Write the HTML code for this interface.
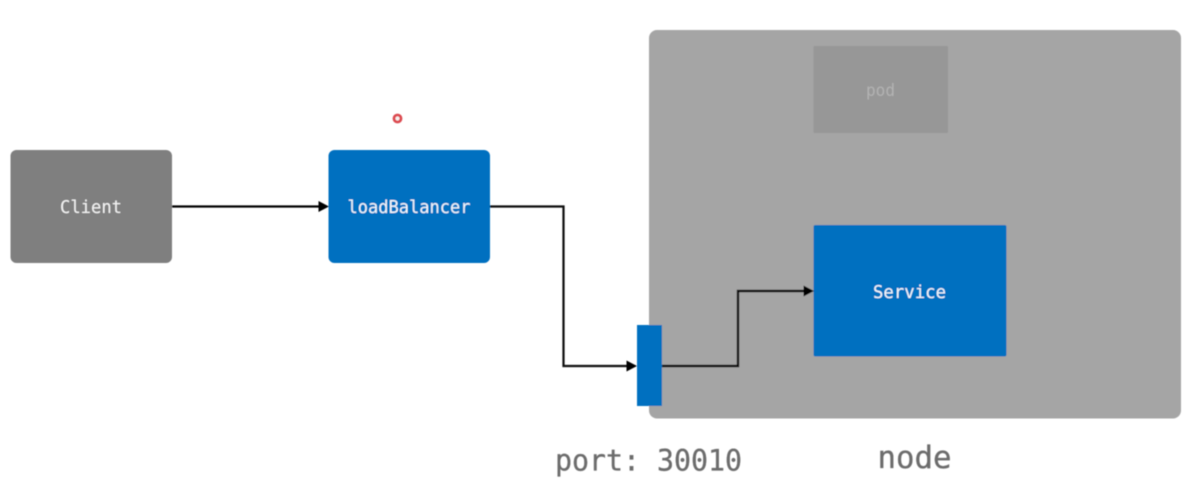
<!DOCTYPE html>
<html>
<head>
<meta charset="utf-8">
<style>
html,body{margin:0;padding:0;background:#fff;width:1198px;height:493px;overflow:hidden}
svg{display:block}
text{font-family:"DejaVu Sans Mono","Liberation Mono",monospace}
</style>
</head>
<body>
<svg width="1198" height="493" viewBox="0 0 1198 493" xmlns="http://www.w3.org/2000/svg">
<defs><filter id="b" x="-5%" y="-5%" width="110%" height="110%"><feGaussianBlur stdDeviation="0.45"/></filter></defs>
<rect width="1198" height="493" fill="#fff"/>
<g filter="url(#b)">
<rect x="649" y="30" width="532" height="388.500" rx="8" fill="#a5a5a5"/>
<rect x="813.500" y="46" width="134.500" height="87" rx="1" fill="#979797"/>
<text x="880.500" y="96" font-size="16.500" fill="#b2b2b2" text-anchor="middle" textLength="29" lengthAdjust="spacingAndGlyphs">pod</text>
<rect x="10.500" y="150" width="161.500" height="113" rx="6" fill="#7f7f7f"/>
<text x="91" y="213" font-size="18" fill="#f4f4f4" text-anchor="middle" textLength="62" lengthAdjust="spacingAndGlyphs">Client</text>
<rect x="328.500" y="150" width="161.500" height="113" rx="6" fill="#0070c0"/>
<text x="409" y="213" font-size="18" fill="#f4f8fc" text-anchor="middle" textLength="123" lengthAdjust="spacingAndGlyphs">loadBalancer</text>
<rect x="813.500" y="225" width="193" height="131.500" rx="2" fill="#0070c0"/>
<text x="909.500" y="298" font-size="18" fill="#f4f8fc" text-anchor="middle" textLength="73" lengthAdjust="spacingAndGlyphs">Service</text>
<circle cx="397.500" cy="118.500" r="3.500" fill="#f6f0ee" stroke="#dc4a4f" stroke-width="2.800"/>
<path d="M172 206.500H320" fill="none" stroke="#000" stroke-width="2.200"/>
<path d="M318.500 201L329 206.500L318.500 212Z" fill="#000"/>
<path d="M490 206.500H563.500V366H628" fill="none" stroke="#111" stroke-width="2.200"/>
<path d="M626.500 360.500L637 366L626.500 371.500Z" fill="#000"/>
<path d="M662 366H738V291H805" fill="none" stroke="#111" stroke-width="2.400"/>
<path d="M803.500 285.500L814 291L803.500 296.500Z" fill="#000"/>
<rect x="637" y="325" width="25" height="81" fill="#0070c0"/>
<text x="648.500" y="470.500" font-size="29.500" fill="#6c6c6c" stroke="#6c6c6c" stroke-width="0.300" text-anchor="middle" textLength="187" lengthAdjust="spacingAndGlyphs">port: 30010</text>
<text x="914.500" y="468" font-size="31.500" fill="#6c6c6c" stroke="#6c6c6c" stroke-width="0.300" text-anchor="middle" textLength="74" lengthAdjust="spacingAndGlyphs">node</text>
</g>
</svg>
</body>
</html>
